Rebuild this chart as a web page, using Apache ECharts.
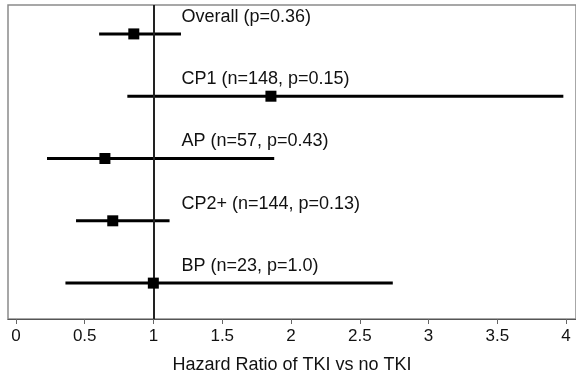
<!DOCTYPE html>
<html>
<head>
<meta charset="utf-8">
<script src="https://cdn.jsdelivr.net/npm/echarts@6/dist/echarts.min.js"></script>
<style>
  html, body { margin: 0; padding: 0; background: #fff; }
  #main { width: 576px; height: 379px; }
</style>
</head>
<body>
<div id="main"></div>
<script>
// forest plot data: top row first
const groups = ['Overall (p=0.36)', 'CP1 (n=148, p=0.15)', 'AP (n=57, p=0.43)', 'CP2+ (n=144, p=0.13)', 'BP (n=23, p=1.0)'];
const rowPos = [5, 4, 3, 2, 1];
const hr = [0.857, 1.854, 0.647, 0.704, 0.999];
const ciLow = [0.605, 0.81, 0.226, 0.437, 0.36];
const ciHigh = [1.2, 3.98, 1.878, 1.117, 2.74];
const xTicks = [0, 0.5, 1, 1.5, 2, 2.5, 3, 3.5, 4];

const font = 'Liberation Sans, Arial, Helvetica, sans-serif';

let chartDom = document.getElementById('main');
let myChart = echarts.init(chartDom, null, { renderer: 'canvas' });

const ciData = groups.map((g, i) => [ciLow[i], ciHigh[i], rowPos[i], g]);
const pointData = groups.map((g, i) => [hr[i], rowPos[i]]);

let option = {
  animation: false,
  grid: {
    left: 8, right: -5, top: 5, bottom: 59,
    show: true, borderColor: '#8a8a8a', borderWidth: 1.5
  },
  xAxis: {
    type: 'value',
    min: -0.0576, max: 4.072,
    splitLine: { show: false },
    axisLine: { show: true, onZero: false, lineStyle: { color: '#555', width: 1.2 } },
    axisTick: { show: true, length: 5, customValues: xTicks, lineStyle: { color: '#666' } },
    axisLabel: {
      customValues: xTicks, margin: 9,
      formatter: v => String(v),
      fontFamily: font, fontSize: 17, color: '#111'
    },
    name: 'Hazard Ratio of TKI vs no TKI',
    nameLocation: 'middle', nameGap: 37,
    nameTextStyle: { fontFamily: font, fontSize: 18, color: '#111', padding: [0, 0, 0, 0] }
  },
  yAxis: {
    type: 'value', min: 0.424, max: 5.464,
    axisLine: { show: false }, axisTick: { show: false },
    axisLabel: { show: false }, splitLine: { show: false }
  },
  series: [
    {
      type: 'custom',
      data: ciData,
      renderItem: function (params, api) {
        const a = api.coord([api.value(0), api.value(2)]);
        const b = api.coord([api.value(1), api.value(2)]);
        const ref = api.coord([1, api.value(2)]);
        return {
          type: 'group',
          children: [
            {
              type: 'line',
              shape: { x1: a[0], y1: a[1], x2: b[0], y2: b[1] },
              style: { stroke: '#000', lineWidth: 3 }
            },
            {
              type: 'text',
              x: ref[0] + 28, y: ref[1] - 17,
              style: {
                text: groups[params.dataIndex],
                fill: '#111', font: '18px ' + font,
                textAlign: 'left', textVerticalAlign: 'middle'
              }
            }
          ]
        };
      },
      markLine: {
        silent: true, symbol: 'none', label: { show: false },
        lineStyle: { color: '#222', width: 2, type: 'solid' },
        data: [{ xAxis: 1 }]
      },
      z: 2
    },
    {
      type: 'scatter',
      data: pointData,
      symbol: 'rect', symbolSize: 11,
      itemStyle: { color: '#000', opacity: 1 },
      z: 5
    }
  ]
};
option && myChart.setOption(option);
</script>
</body>
</html>
